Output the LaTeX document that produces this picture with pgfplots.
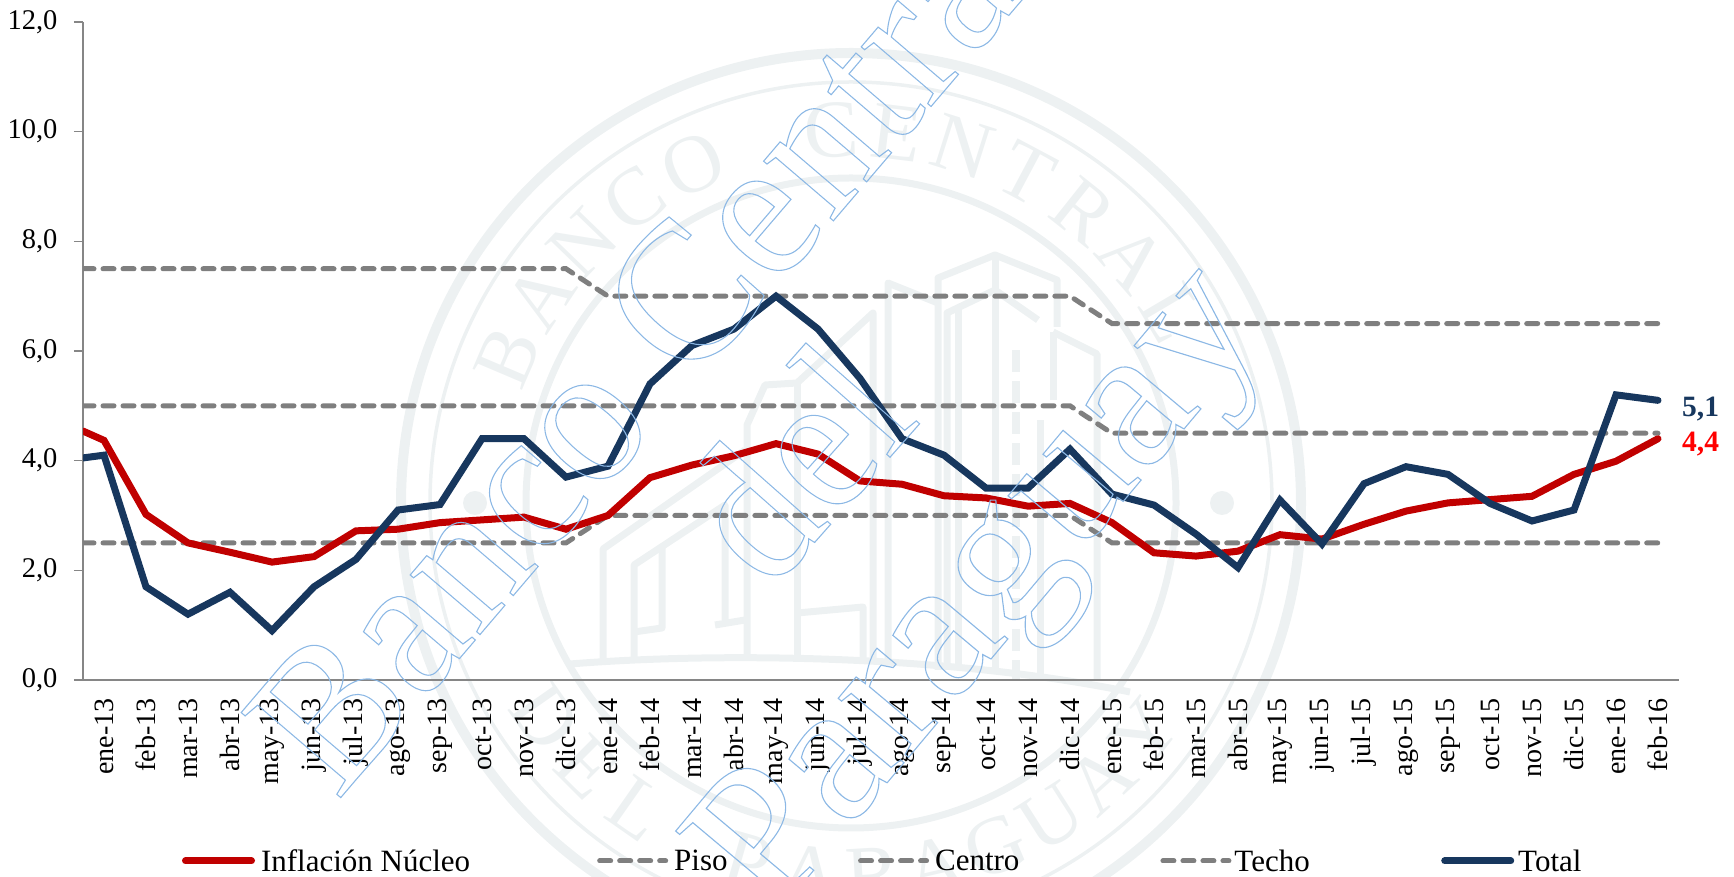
\documentclass[border=0pt]{standalone}
\usepackage{pgfplots}
\pgfplotsset{compat=1.18}
\usepackage{fontspec}
\setmainfont{Liberation Serif}
\definecolor{seal}{HTML}{EDF1F2}
\definecolor{navy}{HTML}{17375E}
\definecolor{crimson}{HTML}{C00000}
\definecolor{dashg}{HTML}{7F7F7F}
\definecolor{axg}{HTML}{868686}
\newcommand{\wmark}[1]{\special{pdf:code q 1 Tr 1.1 w 0.55 0.72 0.90 RG}#1\special{pdf:code Q}}
\begin{document}
\begin{tikzpicture}[x=1pt,y=1pt]
\clip (0,0) rectangle (1734,877);
% --- seal, behind the chart (y measured from the page bottom: 877 - py)
\begin{scope}[shift={(851,374)},draw=seal,text=seal]
 \draw[line width=10pt] (0,0) circle (450);
 \draw[line width=3.5pt] (0,0) circle (421);
 \draw[line width=7pt] (0,0) circle (325);
 \fill[seal] (-376,0) circle (12) (371,0) circle (12);
 \foreach \a/\l in {157/B,146.5/A,136/N,125.5/C,115/O,93/C,83/E,72.5/N,62/T,51.5/R,41/A,30.5/L}
   \node[rotate=\a-90,inner sep=0pt,font=\fontsize{82}{82}\selectfont] at (\a:373) {\l};
 \foreach \a/\l in {-145/D,-135/E,-125/L,-106/P,-96.3/A,-86.6/R,-76.9/A,-67.2/G,-57.5/U,-47.8/A,-38/Y}
   \node[rotate=\a+90,inner sep=0pt,font=\fontsize{82}{82}\selectfont] at (\a:373) {\l};
\end{scope}
\begin{scope}[yscale=-1,yshift=-877,draw=seal,line width=7pt,line join=round]
 % tall tower
 \draw (938,670) -- (938,278) -- (995,255) -- (1057,280) -- (1057,327);
 \draw (947,670) -- (947,313) -- (995,290) -- (1038,320);
 \draw (995,255) -- (995,670);
 \draw (958,670) -- (958,305);
 % centre block
 \draw (888,665) -- (888,283) -- (938,303);
 \draw (873,660) -- (873,313) -- (797,383) -- (765,385) -- (747,425) -- (747,660);
 \draw (797,383) -- (797,660);
 \draw (797,613) -- (863,607) -- (863,660);
 \draw (715,625) -- (745,620);
 % left block
 \draw (603,660) -- (603,549) -- (745,450);
 \draw (634,660) -- (634,565) -- (725,505) -- (725,620);
 \draw (634,632) -- (662,628) -- (662,548);
 % right block
 \draw (1053,332) -- (1097,354) -- (1097,680);
 \draw (1053,332) -- (1053,400);
 \draw[dash pattern=on 22pt off 9pt,line width=8pt] (1016,350) -- (1016,680);
 \draw (1040,420) -- (1040,680);
 % base
 \draw (570,664) .. controls (720,652) and (950,655) .. (1130,692);
\end{scope}
\begin{axis}[
  at={(83pt,197pt)},anchor=south west,
  scale only axis,width=1596pt,height=658pt,
  xmin=-0.5,xmax=37.5,ymin=0,ymax=12,
  clip mode=individual,
  axis x line*=bottom,axis y line*=left,
  axis line style={draw=axg,line width=2pt,-},
  tick align=outside,
  major tick length=9pt,minor tick length=10pt,
  every tick/.style={draw=axg,line width=1.6pt},
  ytick={0,2,4,6,8,10,12},
  xtick={0,...,37},
  xtick style={draw=none},
  minor xtick={-0.5,0.5,...,37.5},
  xticklabels={ene-13,feb-13,mar-13,abr-13,may-13,jun-13,jul-13,ago-13,sep-13,oct-13,nov-13,dic-13,ene-14,feb-14,mar-14,abr-14,may-14,jun-14,jul-14,ago-14,sep-14,oct-14,nov-14,dic-14,ene-15,feb-15,mar-15,abr-15,may-15,jun-15,jul-15,ago-15,sep-15,oct-15,nov-15,dic-15,ene-16,feb-16},
  xticklabel style={rotate=90,anchor=east,font=\fontsize{28}{28}\selectfont,xshift=-6pt},
  yticklabel style={font=\fontsize{28.5}{28.5}\selectfont,xshift=-13pt},
  /pgf/number format/.cd,fixed,fixed zerofill,precision=1,use comma,assume math mode=true,
  /pgfplots/.cd,
  legend cell align=left,
  legend columns=5,
  legend style={draw=none,fill=none,at={(99pt,-181pt)},anchor=west,inner sep=0pt,outer sep=0pt,
    font=\fontsize{31}{31}\selectfont,
    nodes={inner sep=0pt},
    /tikz/every even column/.append style={column sep=0pt}},
  legend image code/.code={\draw[#1] (0pt,0pt) -- (66pt,0pt);},
]
% Techo
\addplot[forget plot,dashg,line width=5pt,line cap=round,dash pattern=on 11pt off 9pt] coordinates {
(-0.5,7.5)(0,7.5)(1,7.5)(2,7.5)(3,7.5)(4,7.5)(5,7.5)(6,7.5)(7,7.5)(8,7.5)(9,7.5)(10,7.5)(11,7.5)(12,7)(13,7)(14,7)(15,7)(16,7)(17,7)(18,7)(19,7)(20,7)(21,7)(22,7)(23,7)(24,6.5)(25,6.5)(26,6.5)(27,6.5)(28,6.5)(29,6.5)(30,6.5)(31,6.5)(32,6.5)(33,6.5)(34,6.5)(35,6.5)(36,6.5)(37,6.5)};
% Centro
\addplot[forget plot,dashg,line width=5pt,line cap=round,dash pattern=on 11pt off 9pt] coordinates {
(-0.5,5)(0,5)(1,5)(2,5)(3,5)(4,5)(5,5)(6,5)(7,5)(8,5)(9,5)(10,5)(11,5)(12,5)(13,5)(14,5)(15,5)(16,5)(17,5)(18,5)(19,5)(20,5)(21,5)(22,5)(23,5)(24,4.5)(25,4.5)(26,4.5)(27,4.5)(28,4.5)(29,4.5)(30,4.5)(31,4.5)(32,4.5)(33,4.5)(34,4.5)(35,4.5)(36,4.5)(37,4.5)};
% Piso
\addplot[forget plot,dashg,line width=5pt,line cap=round,dash pattern=on 11pt off 9pt] coordinates {
(-0.5,2.5)(0,2.5)(1,2.5)(2,2.5)(3,2.5)(4,2.5)(5,2.5)(6,2.5)(7,2.5)(8,2.5)(9,2.5)(10,2.5)(11,2.5)(12,3)(13,3)(14,3)(15,3)(16,3)(17,3)(18,3)(19,3)(20,3)(21,3)(22,3)(23,3)(24,2.5)(25,2.5)(26,2.5)(27,2.5)(28,2.5)(29,2.5)(30,2.5)(31,2.5)(32,2.5)(33,2.5)(34,2.5)(35,2.5)(36,2.5)(37,2.5)};
% Inflacion nucleo
\addplot[forget plot,crimson,line width=7pt,line cap=round,miter limit=3] coordinates {
(-0.5,4.54)(0,4.37)(1,3.02)(2,2.50)(3,2.33)(4,2.15)(5,2.25)(6,2.72)(7,2.75)(8,2.87)(9,2.92)(10,2.97)(11,2.75)(12,3.00)(13,3.69)(14,3.92)(15,4.09)(16,4.31)(17,4.12)(18,3.63)(19,3.57)(20,3.36)(21,3.32)(22,3.17)(23,3.22)(24,2.87)(25,2.32)(26,2.26)(27,2.35)(28,2.65)(29,2.57)(30,2.84)(31,3.08)(32,3.23)(33,3.29)(34,3.35)(35,3.75)(36,3.99)(37,4.40)};
% Total
\addplot[forget plot,navy,line width=7pt,line cap=round,miter limit=3] coordinates {
(-0.5,4.05)(0,4.10)(1,1.70)(2,1.20)(3,1.60)(4,0.90)(5,1.70)(6,2.20)(7,3.10)(8,3.20)(9,4.40)(10,4.40)(11,3.70)(12,3.90)(13,5.40)(14,6.10)(15,6.40)(16,7.00)(17,6.40)(18,5.50)(19,4.40)(20,4.10)(21,3.50)(22,3.50)(23,4.21)(24,3.39)(25,3.19)(26,2.66)(27,2.05)(28,3.28)(29,2.48)(30,3.58)(31,3.89)(32,3.75)(33,3.22)(34,2.90)(35,3.10)(36,5.20)(37,5.10)};
\node[anchor=west,inner sep=0pt,xshift=24pt,yshift=-5pt,text=red,font=\fontsize{29.5}{29.5}\selectfont\bfseries] at (axis cs:37,4.40) {4,4};
\node[anchor=west,inner sep=0pt,xshift=24pt,yshift=-9pt,text=navy,font=\fontsize{29.5}{29.5}\selectfont\bfseries] at (axis cs:37,5.10) {5,1};
\addlegendimage{crimson,line width=7pt,line cap=round}
\addlegendentry{\hspace*{6pt}Inflación Núcleo\hspace*{127pt}}
\addlegendimage{dashg,line width=5pt,line cap=round,dash pattern=on 11pt off 9pt}
\addlegendentry{\hspace*{6pt}Piso\hspace*{130.5pt}}
\addlegendimage{dashg,line width=5pt,line cap=round,dash pattern=on 11pt off 9pt}
\addlegendentry{\hspace*{6pt}Centro\hspace*{141pt}}
\addlegendimage{dashg,line width=5pt,line cap=round,dash pattern=on 11pt off 9pt}
\addlegendentry{\hspace*{3pt}Techo\hspace*{131.5pt}}
\addlegendimage{navy,line width=7pt,line cap=round}
\addlegendentry{\hspace*{4pt}Total}
\end{axis}
% --- outlined watermark, over the chart
\node[rotate=49.5,anchor=base west,inner sep=0pt,font=\fontsize{200}{200}\selectfont] at (337,75) {\scalebox{0.97}[1]{\wmark{Banco Central}}};
\node[rotate=48.5,anchor=base,inner sep=0pt,font=\fontsize{200}{200}\selectfont] at (846,370) {\scalebox{0.94}[1]{\wmark{del}}};
\node[rotate=50,anchor=base west,inner sep=0pt,font=\fontsize{200}{200}\selectfont] at (772,-43) {\scalebox{1.04}[1]{\wmark{Paraguay}}};
\end{tikzpicture}
\end{document}
